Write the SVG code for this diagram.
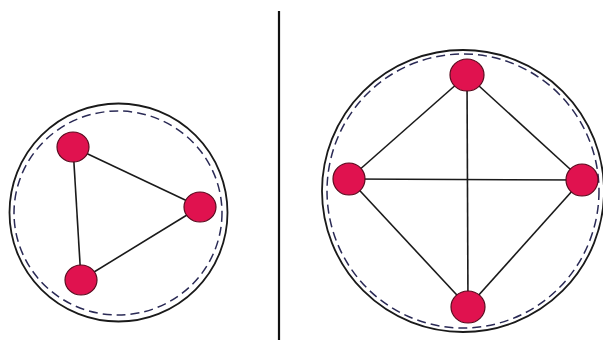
<svg xmlns="http://www.w3.org/2000/svg" width="603" height="340" viewBox="0 0 603 340">
<style>
.outer{fill:none;stroke:#1a1a1a;stroke-width:1.8}
.dash{fill:none;stroke:#2a2a55;stroke-width:1.5;stroke-dasharray:9 5}
.edge{stroke:#1a1a1a;stroke-width:1.6;fill:none}
.node{fill:#e0124f;stroke:#5a0a1e;stroke-width:1.2}
</style>
<rect width="603" height="340" fill="#ffffff"/>
<line x1="279" y1="11" x2="279" y2="340" stroke="#111" stroke-width="2.2"/>
<g id="ring-left">
<circle class="outer" cx="118.5" cy="212.5" r="109"/>
<ellipse class="dash" cx="118" cy="213" rx="104" ry="102"/>
</g>
<g id="ring-right">
<circle class="outer" cx="463" cy="191" r="141"/>
<ellipse class="dash" cx="463" cy="191" rx="136" ry="137"/>
</g>
<g id="connectors">
<line class="edge" x1="73" y1="147" x2="200" y2="207"/>
<line class="edge" x1="73" y1="147" x2="81" y2="280"/>
<line class="edge" x1="81" y1="280" x2="200" y2="207"/>
<line class="edge" x1="467" y1="75" x2="349" y2="179"/>
<line class="edge" x1="467" y1="75" x2="582" y2="180"/>
<line class="edge" x1="467" y1="75" x2="468" y2="307"/>
<line class="edge" x1="349" y1="179" x2="582" y2="180"/>
<line class="edge" x1="349" y1="179" x2="468" y2="307"/>
<line class="edge" x1="582" y1="180" x2="468" y2="307"/>
</g>
<g id="n1"><ellipse class="node" cx="73" cy="147" rx="16" ry="15"/></g>
<g id="n2"><ellipse class="node" cx="200" cy="207" rx="16" ry="15"/></g>
<g id="n3"><ellipse class="node" cx="81" cy="280" rx="16" ry="15"/></g>
<g id="m1"><ellipse class="node" cx="467" cy="75" rx="17" ry="16"/></g>
<g id="m2"><ellipse class="node" cx="349" cy="179" rx="16" ry="16"/></g>
<g id="m3"><ellipse class="node" cx="582" cy="180" rx="16" ry="16"/></g>
<g id="m4"><ellipse class="node" cx="468" cy="307" rx="17" ry="16"/></g>
</svg>
